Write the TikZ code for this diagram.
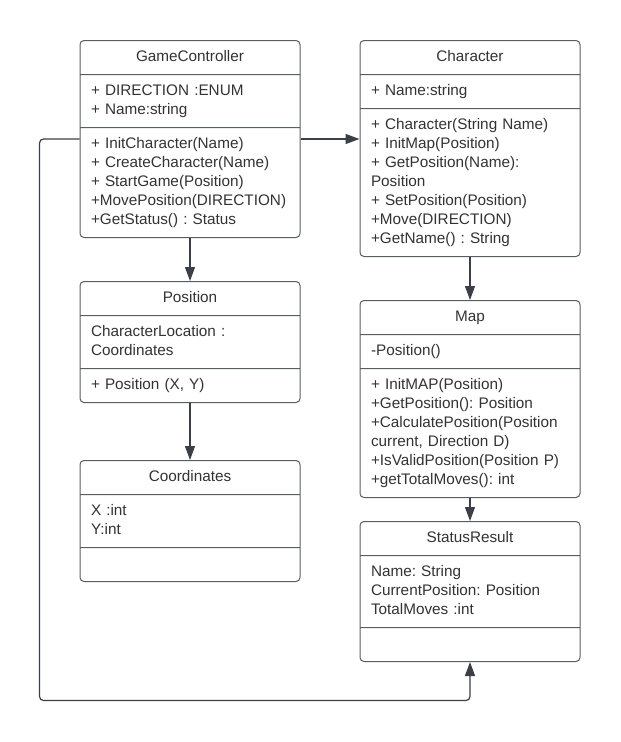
\documentclass[tikz,border=0pt]{standalone}
\usepackage{fontspec}
\setmainfont{Liberation Sans}
\frenchspacing
\usetikzlibrary{shapes.multipart,arrows.meta,positioning}
\definecolor{umlline}{RGB}{88,94,102}
\definecolor{umltext}{RGB}{51,51,51}
\definecolor{umlarrow}{RGB}{58,63,72}
\newcommand{\uhead}[1]{\hbox to \hsize{\hss\strut #1\hss}}
\tikzstyle{umlclass} = [rectangle split, rectangle split parts=3, draw=umlline, line width=1pt, rounded corners=4pt, fill=white, text=umltext, text width=198pt, align=left, inner xsep=11pt, inner ysep=7pt, font=\fontsize{15.3}{19}\selectfont\frenchspacing, anchor=north]
\tikzstyle{tedge}  = [draw=umlarrow, line width=1.2pt, -{Triangle[width=10pt,length=14pt]}]

\begin{document}
\begin{tikzpicture}[x=1pt, y=-1pt]

\useasboundingbox[fill=white] (0,0) rectangle (621,742);

% classes =============================

% left column
\node[umlclass] (gc) at (190,40) {\uhead{GameController}
  \nodepart{two}\strut + DIRECTION :ENUM\\+ Name:string\strut
  \nodepart{three}\strut + InitCharacter(Name)\\+ CreateCharacter(Name)\\+ StartGame(Position)\\+MovePosition(DIRECTION)\\+GetStatus() : Status\strut};
\node[umlclass, below=43pt of gc] (pos) {\uhead{Position}
  \nodepart{two}\strut CharacterLocation :\\Coordinates\strut
  \nodepart{three}\strut + Position (X, Y)\strut};
\node[umlclass, below=57pt of pos] (coord) {\uhead{Coordinates}
  \nodepart{two}\strut X :int\\Y:int\strut
  \nodepart{three}\strut};

% right column
\node[umlclass] (char) at (470,40) {\uhead{Character}
  \nodepart{two}\strut + Name:string\strut
  \nodepart{three}\strut + Character(String Name)\\+ InitMap(Position)\\+ GetPosition(Name):\\Position\\+ SetPosition(Position)\\+Move(DIRECTION)\\+GetName() : String\strut};
\node[umlclass, below=43pt of char] (map) {\uhead{Map}
  \nodepart{two}\strut -Position()\strut
  \nodepart{three}\strut + InitMAP(Position)\\+GetPosition(): Position\\+CalculatePosition(Position\\current, Direction D)\\+IsValidPosition(Position P)\\+getTotalMoves(): int\strut};
\node[umlclass, below=23pt of map] (status) {\uhead{StatusResult}
  \nodepart{two}\strut Name: String\\CurrentPosition: Position\\TotalMoves :int\strut
  \nodepart{three}\strut};

% edges =============================

\path[tedge] (gc.south) -- (pos.north);
\path[tedge] (pos.south) -- (coord.north);
\path[tedge] (gc.east) -- (gc.east -| char.west);
\path[tedge] (char.south) -- (map.north);
\path[tedge] (map.south) -- (status.north);

% loop round to the status
\coordinate (loopbl) at (39.5,700.5);
\path[tedge, rounded corners=4pt] (gc.west) -| (loopbl) -| (status.south);

\end{tikzpicture}
\end{document}
